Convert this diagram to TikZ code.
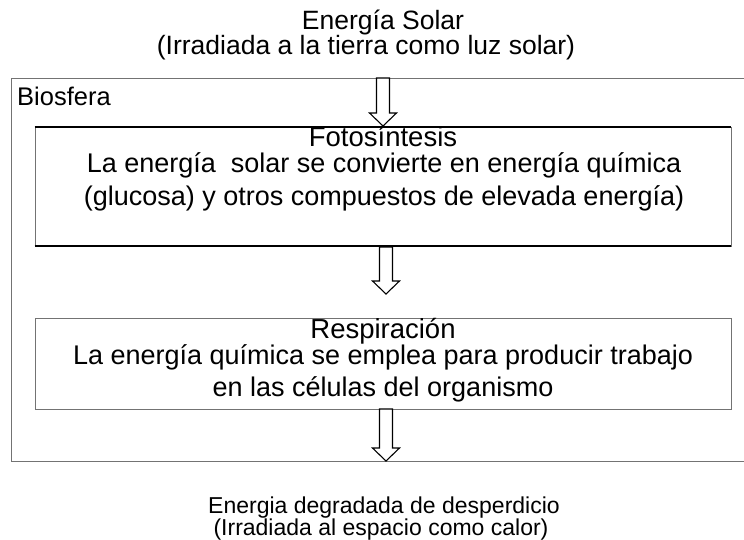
\documentclass[tikz,border=0pt]{standalone}
\usepackage{fontspec}
\setmainfont{Liberation Sans}
\usetikzlibrary{calc}
\tikzset{
  boxline/.style={draw=black!55, line width=0.9pt},
  thickline/.style={draw=black, line width=2pt},
  arrowline/.style={draw=black, line width=1.1pt, fill=white, line join=miter},
  txt/.style={anchor=base, inner sep=0pt, text=black},
  body/.style={txt, font=\fontsize{27}{30}\selectfont},
  ttl/.style={txt, font=\fontsize{27.5}{30}\selectfont},
  head/.style={txt, font=\fontsize{26.5}{28}\selectfont},
  foot/.style={txt, font=\fontsize{23}{26}\selectfont},
}
\newcommand{\hollowarrow}[2]{%
  \draw[arrowline] let \p1=(#1), \p2=(#2) in
    (\x1-6.5pt,\y1) -- (\x1-6.5pt,\y2+13pt) -- (\x1-13.5pt,\y2+13pt) -- (\x1,\y2)
    -- (\x1+13.5pt,\y2+13pt) -- (\x1+6.5pt,\y2+13pt) -- (\x1+6.5pt,\y1) -- cycle;}
\begin{document}
\begin{tikzpicture}[x=1pt,y=-1pt]
\useasboundingbox (0,0) rectangle (744,540);
% titles
\node[head] (sol) at (383,30) {Energía Solar};
\node[head] (solb) at (366,54.5) {(Irradiada a la tierra como luz solar)};
% biosphere frame
\coordinate (bioTL) at (11,78);
\coordinate (bioTR) at (744,78);
\coordinate (bioBL) at (11,461);
\coordinate (bioBR) at (744,461);
\draw[boxline] (bioTR) -- (bioTL) -- (bioBL) -- (bioBR);
\node[txt, font=\fontsize{25.5}{28}\selectfont, anchor=base west] (bio) at (17,106) {Biosfera};
% photosynthesis box
\node[boxline, rectangle, minimum width=696pt, minimum height=119pt, inner sep=0pt] (foto) at (383,186.5) {};
\draw[thickline] (foto.north west) -- (foto.north east);
\draw[thickline] (foto.south west) -- (foto.south east);
\node[ttl] (fotot) at (383,147) {Fotosíntesis};
\node[body] (foto1) at (384,172.5) {La energía\ \ solar se convierte en energía química};
\node[body] (foto2) at (384,205.5) {(glucosa) y otros compuestos de elevada energía)};
% respiration box
\node[boxline, rectangle, minimum width=696pt, minimum height=91pt, inner sep=0pt] (resp) at (383,363.5) {};
\node[ttl] (respt) at (383,338) {Respiración};
\node[body] (resp1) at (383,364) {La energía química se emplea para producir trabajo};
\node[body] (resp2) at (383,396) {en las células del organismo};
% bottom texts
\node[foot] (deg) at (384,513.5) {Energia degradada de desperdicio};
\node[foot] (degb) at (381,535) {(Irradiada al espacio como calor)};
% arrows
\coordinate (a1s) at (383,78);
\coordinate (a1e) at (383,126);
\coordinate (a2s) at (386,247);
\coordinate (a2e) at (386,294);
\coordinate (a3s) at (386,409);
\coordinate (a3e) at (386,461);
\hollowarrow{a1s}{a1e}
\hollowarrow{a2s}{a2e}
\hollowarrow{a3s}{a3e}
\end{tikzpicture}
\end{document}
